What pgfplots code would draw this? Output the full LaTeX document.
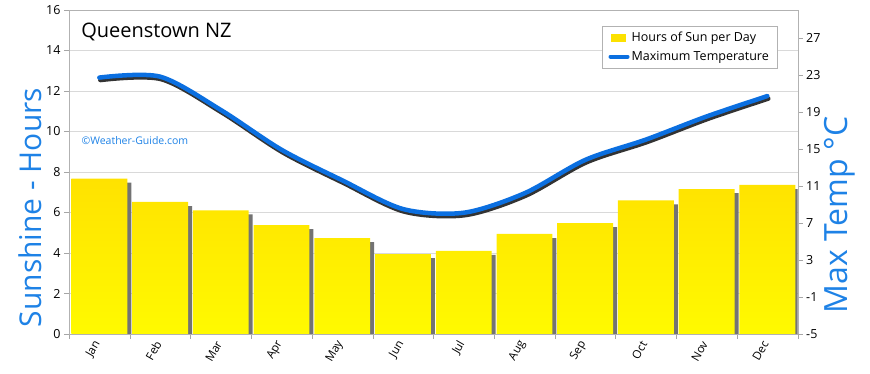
\documentclass[border=0pt]{standalone}
\usepackage{pgfplots}
\pgfplotsset{compat=1.18}
\usepackage{fontspec}
\setmainfont{Open Sans}
\definecolor{lblblue}{HTML}{1E82E6}
\definecolor{lineblue}{HTML}{0B6FE0}
\definecolor{sunyel}{HTML}{FFFA00}
\definecolor{sunorg}{HTML}{F6B400}
\definecolor{suntop}{HTML}{FFE200}
\begin{document}
\begin{tikzpicture}
\begin{axis}[
  scale only axis, width=728.7pt, height=324pt,
  xmin=0.5, xmax=12.5, ymin=0, ymax=16,
  ytick={0,2,...,16},
  xtick={1,...,12},
  xticklabels={Jan,Feb,Mar,Apr,May,Jun,Jul,Aug,Sep,Oct,Nov,Dec},
  minor xtick={0.5,1.5,2.5,3.5,4.5,5.5,6.5,7.5,8.5,9.5,10.5,11.5,12.5},
  major x tick style={draw=none},
  minor x tick style={gray!70},
  ytick style={gray!70},
  tick align=outside, major tick length=5pt, minor tick length=5pt,
  xtick pos=bottom, ytick pos=left,
  axis line style={gray!60},
  ymajorgrids, major grid style={gray!30, line width=0.8pt},
  xticklabel style={rotate=60, anchor=east, font=\fontsize{11.5}{13}\selectfont},
  yticklabel style={font=\fontsize{12.5}{14}\selectfont},
  /pgf/number format/assume math mode=true,
  clip=true,
]
% shadow of the bars
\addplot[ybar, bar width=0.92, bar shift=4pt, draw=none, fill=black!55]
  coordinates {(1,7.47) (2,6.32) (3,5.91) (4,5.18) (5,4.54) (6,3.75) (7,3.91) (8,4.74) (9,5.28) (10,6.4) (11,6.96) (12,7.16)};
\addplot[ybar, bar width=0.92, draw=none, top color=suntop, middle color=sunyel, bottom color=sunyel]
  coordinates {(1,7.67) (2,6.52) (3,6.11) (4,5.38) (5,4.74) (6,3.95) (7,4.11) (8,4.94) (9,5.48) (10,6.6) (11,7.16) (12,7.36)};
\node[anchor=west, font=\fontsize{20}{24}\selectfont] at (rel axis cs:0.012,0.932) {Queenstown NZ};
\node[anchor=west, text=lblblue, font=\fontsize{10.5}{12}\selectfont] at (rel axis cs:0.0124,0.596) {©Weather-Guide.com};
\end{axis}
\begin{axis}[
  scale only axis, width=728.7pt, height=324pt,
  xmin=0.5, xmax=12.5, ymin=-5, ymax=30,
  axis x line=none, axis y line*=right,
  ytick={-5,-1,3,7,11,15,19,23,27},
  ytick style={gray!70},
  tick align=outside, major tick length=5pt,
  axis line style={gray!60},
  yticklabel style={font=\fontsize{12.5}{14}\selectfont},
  /pgf/number format/assume math mode=true,
  legend style={at={(0.9716,0.9506)}, anchor=north east, draw=gray!60, fill=white,
    font=\fontsize{12.5}{15}\selectfont, inner xsep=6pt, inner ysep=4pt, row sep=4pt},
  legend cell align=left,
  clip=false,
]
\addlegendimage{legend image code/.code={\fill[sunyel!65!sunorg] (0.8mm,-1.1mm) rectangle (5.6mm,1.4mm);}}
\addlegendentry{Hours of Sun per Day}
\addlegendimage{legend image code/.code={\draw[lineblue, line width=4pt, line cap=round] (0.5mm,0pt) -- (6.5mm,0pt);}}
\addlegendentry{Maximum Temperature}
\addplot[forget plot, smooth, black!80, line width=4.5pt, line cap=round, shift={(1pt,-2.5pt)}]
  coordinates {(1,22.7) (2,22.8) (3,19.2) (4,14.9) (5,11.6) (6,8.5) (7,8.1) (8,10.2) (9,13.8) (10,16.0) (11,18.5) (12,20.7)};
\addplot[forget plot, smooth, lineblue, line width=4.5pt, line cap=round]
  coordinates {(1,22.7) (2,22.8) (3,19.2) (4,14.9) (5,11.6) (6,8.5) (7,8.1) (8,10.2) (9,13.8) (10,16.0) (11,18.5) (12,20.7)};
\node[rotate=90, text=lblblue, font=\fontsize{30}{34}\selectfont] at (rel axis cs:-0.0535,0.39) {Sunshine - Hours};
\node[rotate=90, text=lblblue, font=\fontsize{32}{36}\selectfont] at (rel axis cs:1.058,0.367) {Max Temp °C};
\end{axis}
\path (-69pt,-40pt) rectangle (801pt,334pt);
\end{tikzpicture}
\end{document}
